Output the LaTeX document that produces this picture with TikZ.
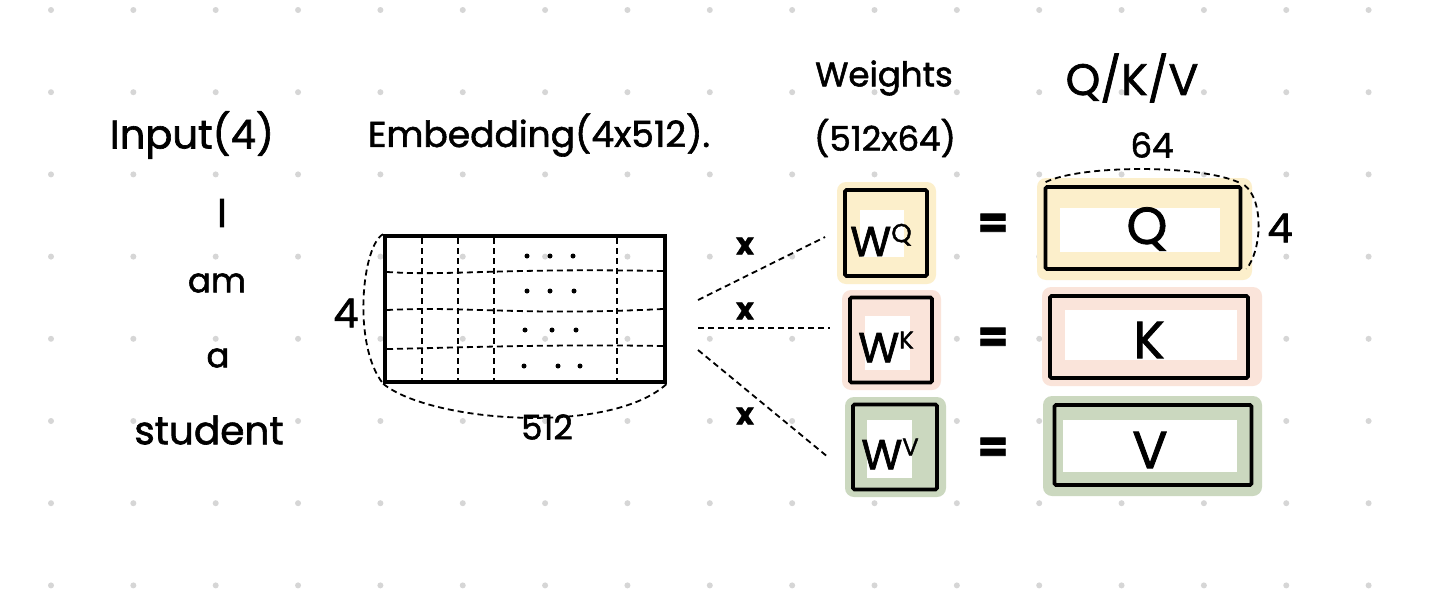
\documentclass[tikz,border=0pt]{standalone}
\usepackage{fontspec}
\setmainfont{Poppins}[FakeBold=1.6]
\usetikzlibrary{calc}
\definecolor{dotgray}{HTML}{D6D6D6}
\definecolor{hlyellow}{HTML}{FCEFCB}
\definecolor{hlpink}{HTML}{FAE4DA}
\definecolor{hlgreen}{HTML}{CBD8BF}
\begin{document}
\begin{tikzpicture}[x=1pt,y=-1pt,
  hand/.style={font=\fontsize{34}{38}\selectfont, inner sep=0pt},
  bighand/.style={font=\fontsize{52}{56}\selectfont, inner sep=0pt},
  mbox/.style={draw=black, line width=3.8pt, rounded corners=1.5pt, inner sep=0pt},
  dline/.style={line width=1.8pt, dash pattern=on 6pt off 4pt},
  gline/.style={line width=1.8pt, dash pattern=on 6pt off 4pt},
  pad/.style={rounded corners=9pt},
  whitepatch/.style={fill=white}]
\useasboundingbox (0,0) rectangle (1448,608);
\fill[white] (0,0) rectangle (1448,608);
% dot grid
\foreach \i in {0,...,16}{
  \foreach \j in {0,...,7}{
    \fill[dotgray] (51+82.35*\i, 10+82.2*\j) circle (3);
  }
}
% titles
\node[hand, font=\fontsize{40}{44}\selectfont] (tin) at (192,135) {Input(4)};
\node[hand, font=\fontsize{36}{40}\selectfont] (temb) at (539,135) {Embedding(4x512).};
\node[hand] (tw1) at (884,78) {Weights};
\node[hand] (tw2) at (885,138) {(512x64)};
\node[hand, font=\fontsize{44}{48}\selectfont] (tqkv) at (1132,78) {Q/K/V};
% words
\node[hand, font=\fontsize{40}{44}\selectfont] (wI) at (222,213) {I};
\node[hand] (wam) at (217,283) {am};
\node[hand] (wa) at (218,358) {a};
\node[hand, font=\fontsize{39}{42}\selectfont] (wst) at (209,430) {student};
% embedding matrix
\node[draw, line width=3.6pt, minimum width=280pt, minimum height=146pt, inner sep=0pt] (emb) at (525,309) {};
\foreach \xx in {422,458,494,617}{
  \draw[gline] (\xx,238) -- (\xx,380);
}
\draw[gline] (387,272) .. controls (450,276) and (500,268) .. (663,271);
\draw[gline] (387,310) .. controls (470,306) and (520,316) .. (663,309);
\draw[gline] (387,349) .. controls (450,348) and (540,344) .. (663,346);
\foreach \yy/\a/\b/\c in {256/527/550/573, 291/527/550/574, 330/525/552/576, 366/524/558/580}{
  \fill (\a,\yy) circle (2.5);
  \fill (\b,\yy) circle (2.5);
  \fill (\c,\yy) circle (2.5);
}
\draw[dline] (emb.north west) .. controls (362,245) and (352,345) .. (emb.south west);
\node[hand, font=\fontsize{40}{44}\selectfont] (l4a) at (346,313) {4};
\draw[dline] (emb.south west) .. controls (430,422) and (610,436) .. (emb.south east);
\node[hand] (l512) at (547,427) {512};
% weights boxes: pads
\fill[hlyellow, pad] (837,182) rectangle (936,284);
\fill[hlpink, pad] (842,290) rectangle (941,390);
\fill[hlgreen, pad] (845,397) rectangle (946,497);
\node[mbox, minimum width=82pt, minimum height=86pt] (wq) at (886,233) {};
\node[mbox, minimum width=82pt, minimum height=85pt] (wk) at (891,340) {};
\node[mbox, minimum width=84pt, minimum height=85pt] (wv) at (895,447) {};
\fill[whitepatch] (860,210) rectangle (904,257);
\fill[whitepatch] (865,316) rectangle (910,370);
\fill[whitepatch] (867,420) rectangle (912,478);
\node[font=\fontsize{42}{44}\selectfont, inner sep=0pt] (wqt) at (881,240) {W\raisebox{14pt}{\fontsize{26}{28}\selectfont Q}};
\node[font=\fontsize{42}{44}\selectfont, inner sep=0pt] (wkt) at (886,347) {W\raisebox{14pt}{\fontsize{24}{26}\selectfont K}};
\node[font=\fontsize{42}{44}\selectfont, inner sep=0pt] (wvt) at (890,454) {W\raisebox{14pt}{\fontsize{24}{26}\selectfont V}};
% result boxes
\fill[hlyellow, pad] (1037,178) rectangle (1252,280);
\fill[hlpink, pad] (1042,287) rectangle (1262,386);
\fill[hlgreen, pad] (1043,396) rectangle (1262,496);
\node[mbox, minimum width=195pt, minimum height=82pt] (q) at (1143,228) {};
\node[mbox, minimum width=198pt, minimum height=82pt] (k) at (1149,337) {};
\node[mbox, minimum width=197pt, minimum height=80pt] (v) at (1153,445) {};
\fill[whitepatch] (1060,208) rectangle (1220,252);
\fill[whitepatch] (1065,310) rectangle (1237,360);
\fill[whitepatch] (1063,420) rectangle (1237,472);
\node[bighand] (qt) at (1147,229) {Q};
\node[bighand] (kt) at (1149,340) {K};
\node[bighand] (vt) at (1150,450) {V};
% equals
\node[hand, font=\fontsize{44}{46}\selectfont\bfseries] (e1) at (993,226) {=};
\node[hand, font=\fontsize{44}{46}\selectfont\bfseries] (e2) at (993,340) {=};
\node[hand, font=\fontsize{44}{46}\selectfont\bfseries] (e3) at (993,450) {=};
% Q dimensions
\draw[dline] ($(q.north west)+(2,-3)$) .. controls (1080,165) and (1200,164) .. ($(q.north east)+(-2,-2)$);
\draw[dline] ($(q.north east)+(2,0)$) .. controls (1264,200) and (1262,250) .. ($(q.south east)+(4,-2)$);
\node[hand] (l64) at (1152,145) {64};
\node[hand, font=\fontsize{40}{44}\selectfont] (l4b) at (1280,228) {4};
% multiplication connectors
\coordinate (s1) at (698,300);
\coordinate (s2) at (698,328);
\coordinate (s3) at (698,350);
\draw[dline] (s1) -- ($(wq.west)+(-18,4)$);
\draw[dline] (s2) -- ($(wk.west)+(-18,-12)$);
\draw[dline] (s3) -- ($(wv.west)+(-22,11)$);
\node[hand, font=\fontsize{30}{32}\selectfont\bfseries] (x1) at (745,246) {x};
\node[hand, font=\fontsize{30}{32}\selectfont\bfseries] (x2) at (745,311) {x};
\node[hand, font=\fontsize{30}{32}\selectfont\bfseries] (x3) at (745,416) {x};
\end{tikzpicture}
\end{document}
